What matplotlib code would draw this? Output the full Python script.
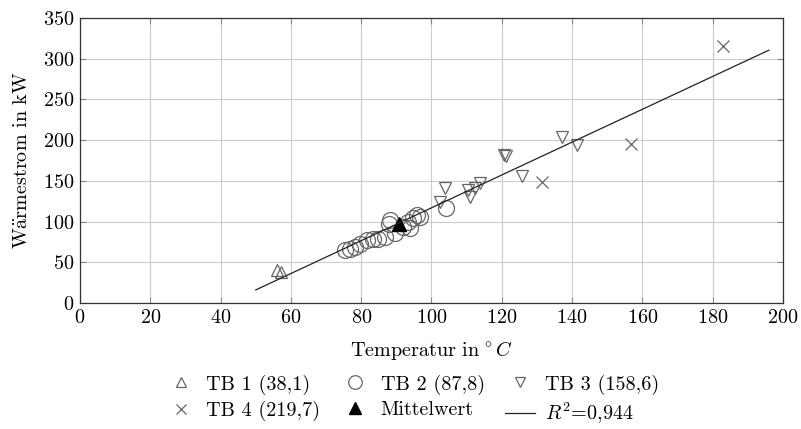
import numpy as np
import matplotlib
matplotlib.use("Agg")
from matplotlib import pyplot as plt

plt.rcParams['font.family'] = ['cmr10', 'DejaVu Serif']
plt.rcParams['mathtext.fontset'] = 'cm'
plt.rcParams['axes.formatter.use_mathtext'] = True

# TB 1
tb1_x = [56.0, 57.2]
tb1_y = [40.5, 38.5]
# TB 2
tb2_x = [75.4, 76.8, 78.2, 79.7, 81.6, 83.4, 84.9, 86.8, 88.2, 88.0, 89.6,
         92.0, 93.4, 93.9, 94.8, 95.8, 96.7, 104.0]
tb2_y = [65.1, 66.0, 69.0, 73.0, 77.0, 79.0, 79.0, 81.0, 102.0, 97.0, 85.6,
         93.7, 100.0, 91.7, 104.0, 108.0, 106.0, 116.3]
# TB 3
tb3_x = [102.4, 103.8, 110.5, 111.0, 112.4, 113.8, 120.5, 121.3, 125.7, 137.0, 141.4]
tb3_y = [124.4, 140.8, 138.8, 130.5, 140.8, 147.0, 181.5, 180.5, 156.0, 204.0, 194.0]
# TB 4
tb4_x = [131.3, 156.9, 183.0]
tb4_y = [148.2, 194.9, 316.0]
# Mittelwert
mean_x = [90.8]
mean_y = [96.5]
# Regression
fit_slope = 2.017
fit_intercept = -84.8
fit_x = np.array([50.0, 196.0])

labels = ['TB 1 (38,1)', 'TB 2 (87,8)', 'TB 3 (158,6)', 'TB 4 (219,7)',
          'Mittelwert', r'$R^2$=0,944']

gray = '#666666'
fs = 14.5

fig = plt.figure(figsize=(8.01, 4.29), dpi=100)
ax = fig.add_axes([0.0999, 0.2937, 0.8776, 0.6643])

h1, = ax.plot(tb1_x, tb1_y, ls='none', marker='^', ms=9, mfc='none', mec=gray, mew=0.9)
h2, = ax.plot(tb2_x, tb2_y, ls='none', marker='o', ms=11.5, mfc='none', mec=gray, mew=0.9)
h3, = ax.plot(tb3_x, tb3_y, ls='none', marker='v', ms=9, mfc='none', mec=gray, mew=0.9)
h4, = ax.plot(tb4_x, tb4_y, ls='none', marker='x', ms=8.5, mec=gray, mew=0.9)
h5, = ax.plot(mean_x, mean_y, ls='none', marker='^', ms=10, color='black')
h6, = ax.plot(fit_x, fit_slope * fit_x + fit_intercept, color='#222222', lw=0.9)

ax.set_xlim(0, 200)
ax.set_ylim(0, 350)
ax.set_xticks(np.arange(0, 201, 20))
ax.set_yticks(np.arange(0, 351, 50))
ax.grid(True, color='#cccccc', lw=0.8)
ax.set_axisbelow(True)
ax.tick_params(direction='in', top=True, right=True, length=4, labelsize=fs,
               color='#888888', pad=4)
for s in ax.spines.values():
    s.set_color('#333333')
    s.set_linewidth(0.9)

ax.set_xlabel(r'Temperatur in$\,^\circ C$', fontsize=fs, labelpad=9)
ax.set_ylabel(r'W$\mathrm{\ddot{a}}$rmestrom in kW', fontsize=fs, labelpad=9)

handles = [h1, h4, h2, h5, h3, h6]
leg_labels = [labels[0], labels[3], labels[1], labels[4], labels[2], labels[5]]
fig.legend(handles, leg_labels, loc='lower center', bbox_to_anchor=(0.515, -0.035),
           ncol=3, frameon=False, fontsize=fs, markerscale=0.85,
           handlelength=1.5, columnspacing=1.0, labelspacing=0.3, handletextpad=0.5)

fig.savefig('out.png', dpi=100)
